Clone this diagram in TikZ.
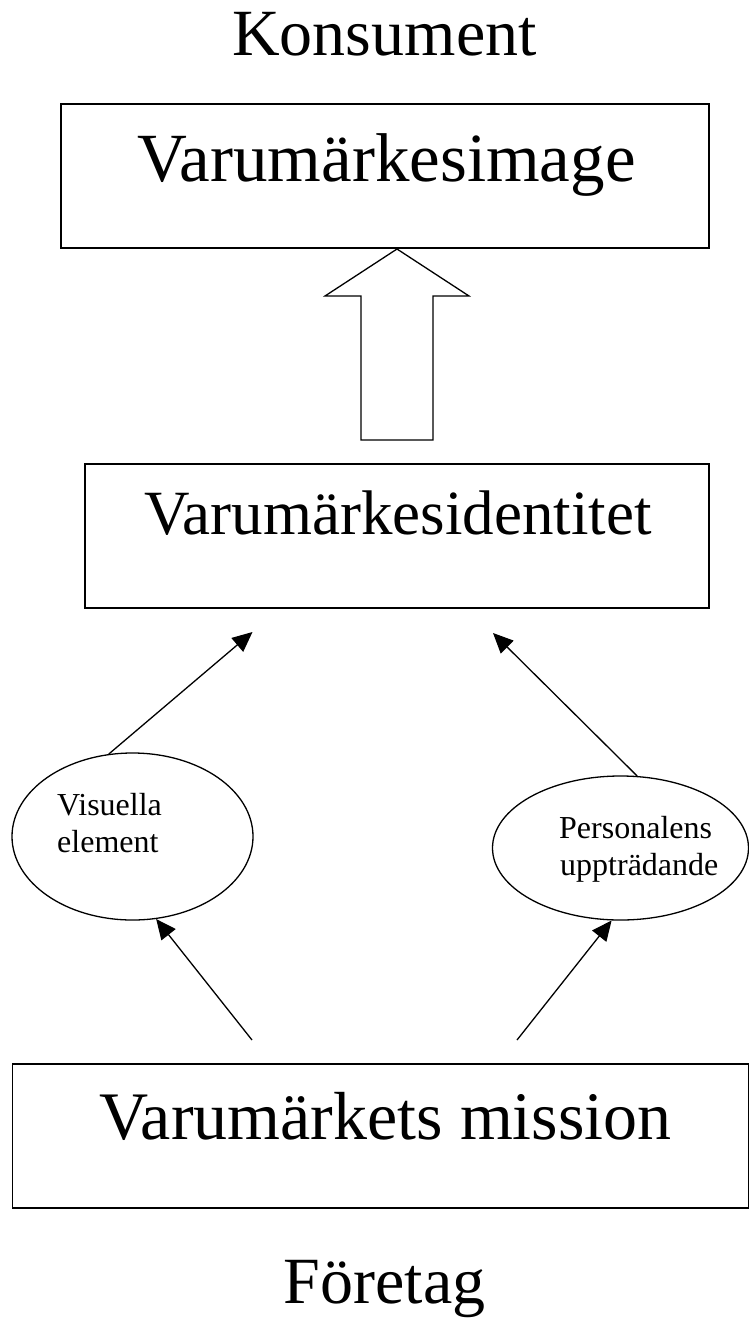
\documentclass[tikz,border=0pt]{standalone}
\usepackage{fontspec}
\setmainfont{Liberation Serif}
\usetikzlibrary{shapes.geometric,arrows.meta}

\tikzset{
  frame/.style={draw, line width=1.3pt, rectangle, inner sep=0pt},
  oval/.style={draw, line width=1.3pt, ellipse, inner sep=0pt},
  bigtext/.style={inner sep=0pt, anchor=base, font=\fontsize{#1}{#1}\selectfont},
  smalltext/.style={inner sep=0pt, anchor=base west, font=\fontsize{32}{37}\selectfont},
  link/.style={line width=1.3pt, -{Triangle[length=20pt,width=18pt]}},
  hollow/.style={draw, line width=1.3pt, fill=white, line join=miter}
}

\begin{document}
\begin{tikzpicture}[x=1pt,y=-1pt]
  \useasboundingbox (0,0) rectangle (749,1322);

  % headings
  \node[bigtext=66] (consumer) at (384.5,56) {Konsument};
  \node[bigtext=66] (company) at (384.5,1303) {Företag};

  % boxes
  \node[frame, minimum width=648pt, minimum height=144pt] (image) at (385,176) {};
  \node[bigtext=69] (imagetext) at (386.5,181) {Varumärkesimage};

  \node[frame, minimum width=624pt, minimum height=144pt] (identity) at (397,536) {};
  \node[bigtext=63] (identitytext) at (398,534) {Varumärkesidentitet};

  \node[frame, minimum width=736pt, minimum height=144pt] (mission) at (380.5,1136) {};
  \node[bigtext=68] (missiontext) at (385.5,1139) {Varumärkets mission};

  % ellipses
  \node[oval, minimum width=241pt, minimum height=167pt] (visual) at (132.5,836.5) {};
  \node[smalltext] (visualA) at (57,815) {Visuella};
  \node[smalltext] (visualB) at (57,852) {element};

  \node[oval, minimum width=256pt, minimum height=144pt] (staff) at (620.5,848) {};
  \node[smalltext] (staffA) at (559,838) {Personalens};
  \node[smalltext] (staffB) at (560,875) {uppträdande};

  % hollow block arrow from identity up to image
  \draw[hollow] (397,249) -- (469,296) -- (433,296) -- (433,440)
        -- (361,440) -- (361,296) -- (325,296) -- cycle;

  % free ends of the thin connectors
  \coordinate (tipL) at (252.5,632);
  \coordinate (tipR) at (493,633);
  \coordinate (baseL) at (252,1040);
  \coordinate (baseR) at (517,1040);

  \draw[link] (visual.106) -- (tipL);
  \draw[link] (staff.77) -- (tipR);
  \draw[link] (baseL) -- (visual.-74);
  \draw[link] (baseR) -- (staff.-97);
\end{tikzpicture}
\end{document}
